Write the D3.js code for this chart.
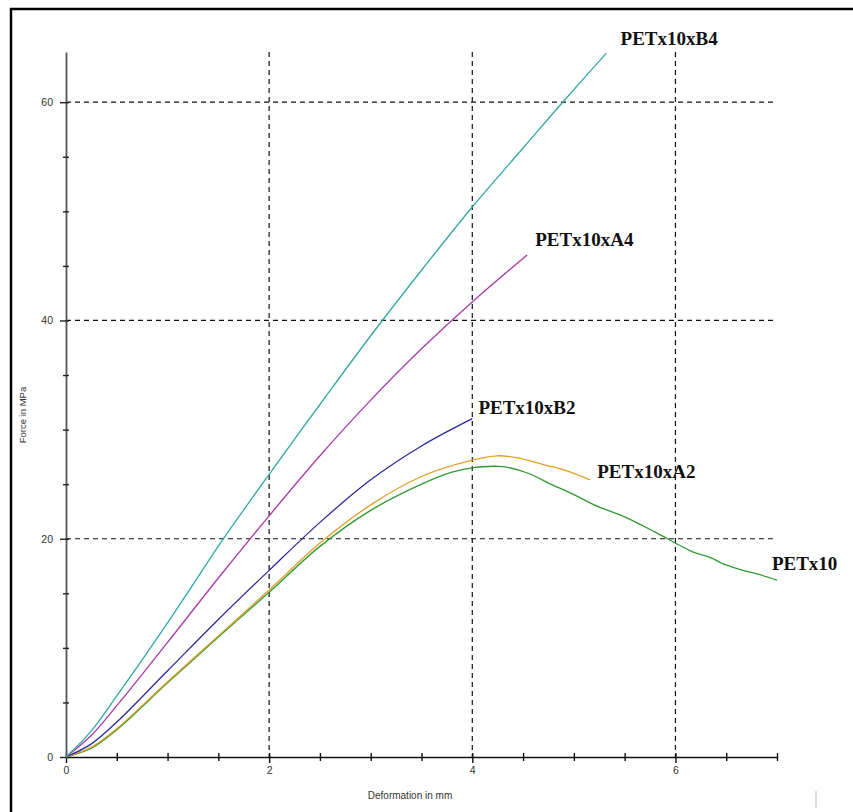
<!DOCTYPE html>
<html>
<head>
<meta charset="utf-8">
<script src="https://cdn.jsdelivr.net/npm/d3@7"></script>
<style>
  html, body { margin: 0; padding: 0; background: #fff; }
  svg { display: block; }
</style>
</head>
<body>
<svg id="chart" width="853" height="812"></svg>
<script>
// Deformation (mm) vs force (MPa) for each specimen
const petX10 = [[0,0],[0.25,0.8],[0.5,2.5],[1,6.8],[1.5,11],[2,15.1],[2.5,19.3],[3,22.6],[3.5,25.0],[3.8,26.1],[4,26.5],[4.3,26.6],[4.55,26.0],[4.75,25.1],[5.01,24.0],[5.2,23.1],[5.5,22.0],[5.8,20.6],[6.04,19.4],[6.17,18.8],[6.34,18.3],[6.47,17.7],[6.63,17.2],[6.83,16.7],[7.0,16.2]];
const petX10xA2 = [[0,0],[0.25,0.9],[0.5,2.6],[1,6.9],[1.5,11.1],[2,15.3],[2.5,19.6],[3,23.1],[3.5,25.7],[4,27.2],[4.25,27.6],[4.45,27.4],[4.7,26.8],[4.9,26.3],[5.16,25.4]];
const petX10xB2 = [[0,0],[0.25,1.2],[0.5,3.2],[1,7.9],[1.5,12.6],[2,17.1],[2.5,21.5],[3,25.4],[3.5,28.5],[4,31.0]];
const petX10xA4 = [[0,0],[0.25,2],[0.5,4.7],[1,10.5],[1.5,16.4],[2,22.1],[2.5,27.6],[3,32.7],[3.5,37.4],[4,41.7],[4.54,46]];
const petX10xB4 = [[0,0],[0.25,2.4],[0.5,5.6],[0.75,8.9],[1,12.3],[1.25,15.8],[1.55,20],[2,25.9],[2.5,32.3],[3,38.6],[3.5,44.6],[4,50.4],[4.5,55.8],[4.89,60],[5.32,64.5]];

const seriesNames = ["PETx10", "PETx10xA2", "PETx10xB2", "PETx10xA4", "PETx10xB4"];
const seriesValues = [petX10, petX10xA2, petX10xB2, petX10xA4, petX10xB4];
const seriesColors = ["#2f9a2f", "#e0a02a", "#2a2a9a", "#a83aaa", "#32a6a6"];
// label anchor point for each series name (data units: x, y)
const labelPos = [[6.95, 17.1], [5.23, 25.6], [4.06, 31.4], [4.62, 46.8], [5.46, 65.2]];

const xTicks = d3.range(0, 7.01, 0.5);
const xLabels = [0, 2, 4, 6];
const yTicks = d3.range(0, 60.1, 5);
const yLabels = [0, 20, 40, 60];

const svg = d3.select("#chart");

// outer frame
svg.append("line").attr("x1", 11).attr("x2", 11).attr("y1", 8).attr("y2", 812)
  .attr("stroke", "#000").attr("stroke-width", 2.5);
svg.append("line").attr("x1", 10).attr("x2", 853).attr("y1", 9).attr("y2", 9)
  .attr("stroke", "#000").attr("stroke-width", 2.5);
svg.append("line").attr("x1", 816).attr("x2", 816).attr("y1", 791).attr("y2", 808)
  .attr("stroke", "#d0d0d0").attr("stroke-width", 1.5);

const x = d3.scaleLinear().domain([0, 7]).range([66, 777]);
const y = d3.scaleLinear().domain([0, 64.6]).range([757, 52]);

// dashed grid
const grid = svg.append("g").attr("stroke", "#111").attr("stroke-width", 1.2)
  .attr("stroke-dasharray", "5,4");
grid.selectAll("line.v").data(xLabels.filter(d => d > 0)).join("line")
  .attr("x1", d => x(d)).attr("x2", d => x(d))
  .attr("y1", y.range()[1]).attr("y2", y(0));
grid.selectAll("line.h").data(yLabels.filter(d => d > 0)).join("line")
  .attr("x1", x(0)).attr("x2", x(7))
  .attr("y1", d => y(d)).attr("y2", d => y(d));

// x axis
const xAxis = svg.append("g").attr("transform", `translate(0,${y(0)})`)
  .call(d3.axisBottom(x).tickValues(xTicks).tickSizeOuter(0)
    .tickFormat(d => xLabels.includes(d) ? d3.format("d")(d) : ""));
xAxis.select(".domain").attr("stroke", "#111").attr("stroke-width", 1.6);
xAxis.selectAll(".tick line").attr("stroke", "#111").attr("stroke-width", 1.4)
  .attr("y1", -4).attr("y2", d => xLabels.includes(d) ? 6 : 4);
xAxis.selectAll(".tick text").attr("y", 10).attr("fill", "#333")
  .style("font-family", "Arial, 'Liberation Sans', sans-serif").style("font-size", "10.5px");

// y axis
const yAxis = svg.append("g").attr("transform", `translate(${x(0)},0)`)
  .call(d3.axisLeft(y).tickValues(yTicks).tickSizeOuter(0)
    .tickFormat(d => yLabels.includes(d) ? d3.format("d")(d) : ""));
yAxis.select(".domain").attr("stroke", "#555").attr("stroke-width", 1.8);
yAxis.selectAll(".tick line").attr("stroke", "#222").attr("stroke-width", 1.4)
  .attr("x1", d => yLabels.includes(d) ? -6 : -3).attr("x2", 3);
yAxis.selectAll(".tick text").attr("x", -13).attr("fill", "#333")
  .style("font-family", "Arial, 'Liberation Sans', sans-serif").style("font-size", "10.5px");

// axis titles
svg.append("text").attr("x", 410).attr("y", 799).attr("text-anchor", "middle")
  .attr("fill", "#333").style("font-family", "Arial, 'Liberation Sans', sans-serif")
  .style("font-size", "10px").text("Deformation in mm");
svg.append("text").attr("transform", "translate(26,415) rotate(-90)")
  .attr("text-anchor", "middle").attr("fill", "#333")
  .style("font-family", "Arial, 'Liberation Sans', sans-serif")
  .style("font-size", "9.5px").text("Force in MPa");

// curves
const line = d3.line().x(d => x(d[0])).y(d => y(d[1])).curve(d3.curveCatmullRom.alpha(0.5));
svg.append("g").selectAll("path").data(seriesValues).join("path")
  .attr("d", line).attr("fill", "none")
  .attr("stroke", (d, i) => seriesColors[i]).attr("stroke-width", 1.3);

// series names
svg.append("g").selectAll("text").data(seriesNames).join("text")
  .attr("x", (d, i) => x(labelPos[i][0])).attr("y", (d, i) => y(labelPos[i][1]))
  .attr("fill", "#111")
  .style("font-family", "'Times New Roman', 'Liberation Serif', serif")
  .style("font-weight", "bold").style("font-size", "19px")
  .text(d => d);
</script>
</body>
</html>
